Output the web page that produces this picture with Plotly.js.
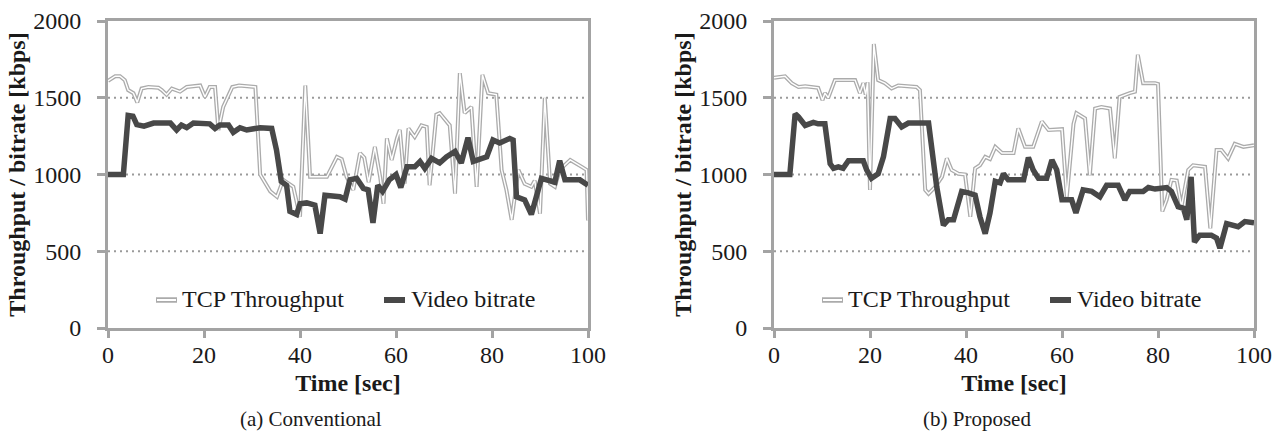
<!DOCTYPE html>
<html>
<head>
<meta charset="utf-8">
<script src="https://cdn.plot.ly/plotly-3.0.1.min.js"></script>
<style>html,body{margin:0;padding:0;background:#fff;}#chart{width:1274px;height:437px;}</style>
</head>
<body>
<div id="chart"></div>
<script>
// ---- Data ----
const xTicks = [0, 20, 40, 60, 80, 100];
const yTicks = [0, 500, 1000, 1500, 2000];
const gridValues = [500, 1000, 1500];
const seriesNames = ["TCP Throughput", "Video bitrate"];
const captions = ["(a) Conventional", "(b) Proposed"];

// (a) Conventional
const convTcpTime = [0,1.5,2.5,3.5,4.2,5.3,6.1,7,8.4,10.5, 11.2,12.2,13.3,15,16.4,19.2,20.2,21.2,22.3,23, 24,25.9,27.3,30.7,31.7,32.4,33.8,35.2,36.5,37.2, 38.6,40,41.1,42.1,45.6,47.7,48.7,49.7,51.1,52.5, 53.4,54.3,55.6,56.7,57.4,58.1,59.1,60.2,60.8,61.8, 62.6,63.9,65.3,66.4,67,68.4,69.1,71.2,72.3,73.3, 74.3,75.7,76.8,78,79.2,80.9,82,83,84.1,85.5, 86.8,88.2,88.9,90,91,92.1,93.1,94.1,96.3,98.7, 99.7,100];
const convTcpKbps = [1610,1640,1640,1615,1550,1530,1470,1560,1570,1565, 1550,1520,1560,1540,1570,1580,1505,1570,1570,1290, 1440,1570,1580,1570,1000,965,890,855,965,950, 920,725,1580,985,985,1115,1100,985,900,1140, 1110,950,1180,985,810,1235,1095,1235,1290,940, 1300,1245,1320,1310,930,1390,1400,1320,875,1660, 1400,1440,920,1650,1530,1520,1030,900,705,1030, 940,920,960,745,1500,940,920,1030,1095,1050, 1030,700];
const convVidTime = [0,3.2,4.2,5.2,6,7.5,9.5,13,14.3,15.3, 16.4,17.8,21.2,22.3,23.3,25.1,26.1,27.5,28.9,31.7, 34.1,35.1,36.1,37.2,37.9,39.3,40,41.4,43.1,44.2, 45.2,48.3,49.4,50.4,51.8,53.2,54.2,55.2,56.2,57.2, 58.6,60,61,62.3,63.9,65,66,67.4,69.1,70.5, 72.3,73.6,75,76.1,78.9,80.2,81.6,83.7,84.4,85.1, 86.8,88.2,90.3,93.1,94.1,95.2,98.3,100];
const convVidKbps = [1000,1000,1385,1380,1325,1315,1335,1335,1290,1322, 1305,1335,1330,1300,1322,1322,1275,1305,1290,1305, 1300,1160,955,930,760,740,810,815,800,615, 865,855,840,965,975,910,900,685,930,890, 965,1000,915,1050,1050,1085,1040,1105,1075,1115, 1150,1075,1240,1085,1115,1225,1205,1235,1225,855, 835,740,975,950,1090,965,965,930];

// (b) Proposed
const propTcpTime = [0,2.3,3.7,5.1,6.5,8.2,9.2,10.1,10.6,11.3, 12.7,14.1,16.9,17.9,18.6,19.1,19.5,20,20.8,21.7, 23.1,24.5,25.9,29.7,30.4,31.5,32.2,33.6,35,36, 37,38.4,39.8,40.9,41.9,42.9,44,45,46.1,47.5, 49.9,50.9,52.3,54,55.8,57.2,60,61,62.4,63, 64.8,65.8,66.9,68.2,70,71,72,74.1,75.2,75.8, 76.9,79.4,80,80.9,81.8,82.8,83.9,84.9,86.3,87.3, 89.8,90.9,92.2,93.2,94.6,96,97.8,100];
const propTcpKbps = [1630,1640,1595,1570,1575,1570,1565,1485,1530,1500, 1615,1615,1615,1530,1595,1520,1600,900,1850,1615, 1595,1560,1580,1570,1550,900,875,920,985,1105, 1030,1005,1000,725,1040,1060,1115,1100,1180,1140, 1140,1300,1180,1180,1345,1290,1295,855,1330,1400, 1365,995,1430,1440,1430,1105,1505,1530,1540,1780, 1595,1595,1590,760,835,965,960,790,1030,1060, 1050,650,1160,1160,1105,1200,1180,1190];
const propVidTime = [0,3.3,4.4,5.1,6.5,8.2,9.2,10.6,11.7,12.4, 13.4,14.4,15.5,18.6,19.3,20.3,21.7,22.8,24.2,25.2, 26.6,28,32.2,32.9,33.9,35.3,36.3,37.4,39.1,40.5, 41.9,42.9,44,45,46.1,47.1,47.8,48.8,52,53, 54,55.1,56.8,57.9,58.9,60,62,62.9,64.4,66.2, 67.9,69.3,71.7,73.1,74.1,76.9,78,79.4,81.8,82.8, 84.2,85.3,86,86.9,87.6,88.7,91.1,92.2,92.9,94.3, 95.7,96.7,98.1,100];
const propVidKbps = [1000,1000,1395,1375,1320,1340,1330,1330,1070,1040, 1050,1040,1090,1090,1030,975,1005,1115,1365,1365, 1310,1335,1335,1160,920,670,705,705,890,880, 865,725,615,750,955,945,1005,965,965,1110, 1030,975,975,1095,1030,835,835,750,900,890, 855,930,930,835,890,890,915,905,915,890, 790,780,705,985,560,605,605,585,520,680, 670,660,693,686];

// ---- Styles ----
const W = 1274, H = 437;
const FONT = "Liberation Serif, Times New Roman, serif";
const AXIS_COLOR = "#a3a3a3";
const TCP_COLOR = "#ababab";
const VID_COLOR = "#484848";
const TEXT_COLOR = "#1a1a1a";
const PX = p => p / W;
const PY = p => 1 - p / H;

function tcpTraces(t, v, xa, ya) {
  return [
    {x: t, y: v, xaxis: xa, yaxis: ya, type: "scatter", mode: "lines", name: seriesNames[0],
     line: {color: TCP_COLOR, width: 4}, hoverinfo: "skip"},
    {x: t, y: v, xaxis: xa, yaxis: ya, type: "scatter", mode: "lines", name: seriesNames[0],
     line: {color: "#ffffff", width: 1.4}, hoverinfo: "skip"}
  ];
}
function vidTrace(t, v, xa, ya) {
  return {x: t, y: v, xaxis: xa, yaxis: ya, type: "scatter", mode: "lines", name: seriesNames[1],
          line: {color: VID_COLOR, width: 5.5}};
}

const data = [
  ...tcpTraces(convTcpTime, convTcpKbps, "x", "y"),
  vidTrace(convVidTime, convVidKbps, "x", "y"),
  ...tcpTraces(propTcpTime, propTcpKbps, "x2", "y2"),
  vidTrace(propVidTime, propVidKbps, "x2", "y2")
];

const plotLeft = [108, 774];
const plotWidth = 480;
const yTop = 21, yBottom = 328;

function xAxis(i) {
  return {
    domain: [PX(plotLeft[i]), PX(plotLeft[i] + plotWidth)],
    range: [0, 100], tickvals: xTicks, ticktext: xTicks.map(String),
    ticks: "outside", ticklen: 7, tickwidth: 3, tickcolor: AXIS_COLOR,
    showline: true, linecolor: AXIS_COLOR, linewidth: 3, mirror: true,
    showgrid: false, zeroline: false, fixedrange: true,
    ticklabelstandoff: -4,
    tickfont: {family: FONT, size: 24, color: TEXT_COLOR},
    title: {text: "Time [sec]", standoff: 8, font: {family: FONT, size: 24, color: TEXT_COLOR, weight: 700}},
    anchor: i === 0 ? "y" : "y2"
  };
}
function yAxis(i) {
  return {
    domain: [PY(yBottom), PY(yTop)],
    range: [0, 2000], tickvals: yTicks, ticktext: yTicks.map(String),
    ticks: "outside", ticklen: 8, tickwidth: 3, tickcolor: AXIS_COLOR,
    showline: true, linecolor: AXIS_COLOR, linewidth: 3, mirror: true,
    showgrid: false, zeroline: false, fixedrange: true,
    ticklabelstandoff: 11,
    tickfont: {family: FONT, size: 24, color: TEXT_COLOR},
    title: {text: "Throughput / bitrate [kbps]", standoff: 1, font: {family: FONT, size: 24, color: TEXT_COLOR, weight: 700}},
    anchor: i === 0 ? "x" : "x2"
  };
}

const shapes = [];
const annotations = [];
[0, 1].forEach(i => {
  const xd = i === 0 ? "x domain" : "x2 domain";
  const yr = i === 0 ? "y" : "y2";
  gridValues.forEach(g => {
    shapes.push({type: "line", xref: xd, yref: yr, x0: 0, x1: 1, y0: g, y1: g, layer: "below",
                 line: {color: "#9a9a9a", width: 2, dash: "2px,4px"}});
  });
  const o = plotLeft[i] - plotLeft[0];
  const ly = 300;
  // legend: TCP (double line)
  shapes.push({type: "line", xref: "paper", yref: "paper", x0: PX(o + 156), x1: PX(o + 177), y0: PY(ly), y1: PY(ly),
               line: {color: TCP_COLOR, width: 5.5}});
  shapes.push({type: "line", xref: "paper", yref: "paper", x0: PX(o + 157), x1: PX(o + 176), y0: PY(ly), y1: PY(ly),
               line: {color: "#ffffff", width: 2}});
  annotations.push({xref: "paper", yref: "paper", x: PX(o + 180), y: PY(ly - 1), xanchor: "left", yanchor: "middle",
                    text: seriesNames[0], showarrow: false, font: {family: FONT, size: 24, color: TEXT_COLOR}});
  // legend: Video bitrate
  shapes.push({type: "line", xref: "paper", yref: "paper", x0: PX(o + 384), x1: PX(o + 405), y0: PY(ly), y1: PY(ly),
               line: {color: VID_COLOR, width: 6}});
  annotations.push({xref: "paper", yref: "paper", x: PX(o + 409), y: PY(ly - 1), xanchor: "left", yanchor: "middle",
                    text: seriesNames[1], showarrow: false, font: {family: FONT, size: 24, color: TEXT_COLOR}});
  // caption
  annotations.push({xref: "paper", yref: "paper", x: PX(i === 0 ? 311 : 977), y: PY(419), xanchor: "center", yanchor: "middle",
                    text: captions[i], showarrow: false, font: {family: FONT, size: 21, color: TEXT_COLOR}});
});

const layout = {
  width: W, height: H,
  margin: {l: 0, r: 0, t: 0, b: 0, pad: 0},
  paper_bgcolor: "#ffffff", plot_bgcolor: "#ffffff",
  showlegend: false,
  xaxis: xAxis(0), yaxis: yAxis(0),
  xaxis2: xAxis(1), yaxis2: yAxis(1),
  shapes: shapes, annotations: annotations
};

Plotly.newPlot("chart", data, layout, {staticPlot: true, displayModeBar: false});
</script>
</body>
</html>
